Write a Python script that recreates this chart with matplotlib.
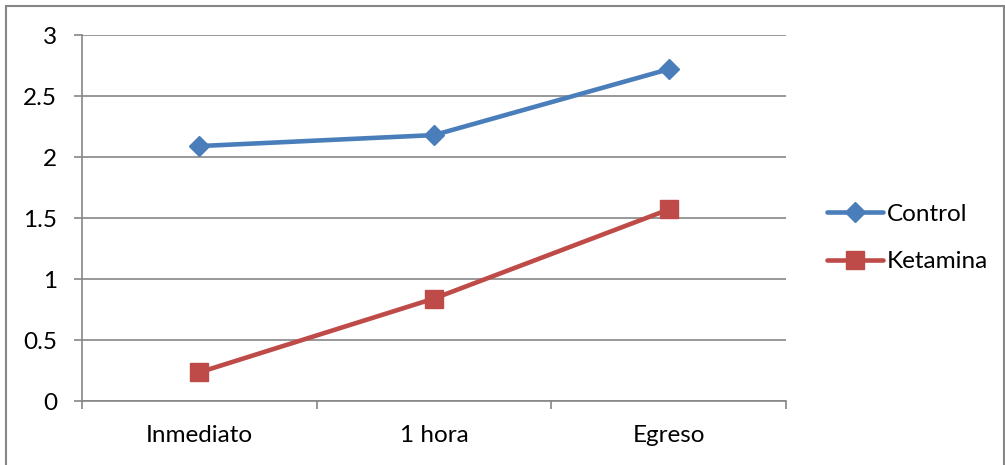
import matplotlib.pyplot as plt
from matplotlib.patches import Rectangle

plt.rcParams['font.family'] = ['Lato', 'DejaVu Sans']

categories = ['Inmediato', '1 hora', 'Egreso']
control = [2.09, 2.18, 2.72]
ketamina = [0.235, 0.84, 1.57]
y_ticks = [0, 0.5, 1, 1.5, 2, 2.5, 3]
y_labels = ['0', '0.5', '1', '1.5', '2', '2.5', '3']

grey = '#868686'
fs = 17.5

fig = plt.figure(figsize=(10.05, 4.65), dpi=100)
ax = fig.add_axes([0.0816, 0.1376, 0.7005, 0.787])

x = list(range(len(categories)))
ax.plot(x, control, color='#4A7EBB', lw=3.3, marker='D', ms=10,
        label='Control', solid_joinstyle='round', solid_capstyle='round')
ax.plot(x, ketamina, color='#BE4B48', lw=3.3, marker='s', ms=13.5,
        label='Ketamina', solid_joinstyle='round', solid_capstyle='round')

ax.set_xlim(-0.5, len(categories) - 0.5)
ax.set_ylim(0, 3)
ax.set_yticks(y_ticks)
ax.set_yticklabels(y_labels)
ax.set_xticks(x)
ax.set_xticklabels(categories)
ax.set_xticks([i - 0.5 for i in range(len(categories) + 1)], minor=True)

ax.yaxis.grid(True, color=grey, lw=1.2)
ax.set_axisbelow(True)
for side in ['top', 'right']:
    ax.spines[side].set_visible(False)
for side in ['left', 'bottom']:
    ax.spines[side].set_color(grey)
    ax.spines[side].set_linewidth(1.2)

ax.tick_params(axis='y', length=6, width=1.2, color=grey, labelsize=fs, pad=12)
ax.tick_params(axis='x', which='major', length=0, labelsize=fs, pad=17)
ax.tick_params(axis='x', which='minor', length=5.5, width=1.2, color=grey)

fig.legend(loc='center left', bbox_to_anchor=(0.801, 0.488), frameon=False,
           fontsize=fs, handlelength=2.3, handletextpad=0.16, labelspacing=1.1)

# outer chart border
fig.add_artist(Rectangle((6 / 1005, -0.05), 998 / 1005, 1 - 6 / 465 + 0.05,
                         transform=fig.transFigure, fill=False,
                         edgecolor=grey, lw=1.5))

fig.savefig('out.png', dpi=100)
